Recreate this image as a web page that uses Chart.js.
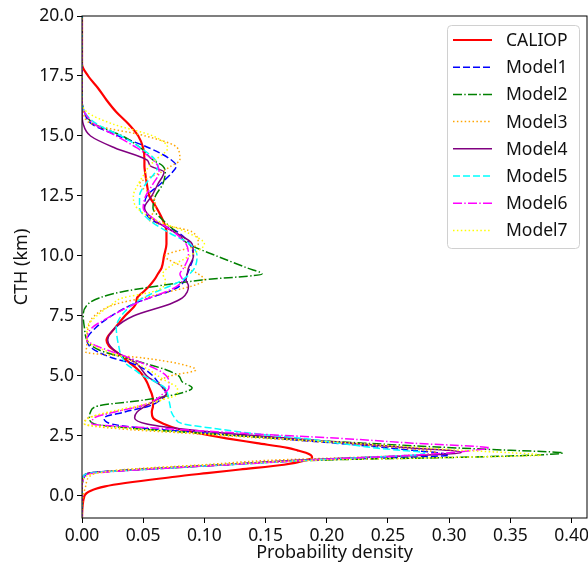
<!DOCTYPE html>
<html>
<head>
<meta charset="utf-8">
<script src="https://cdn.jsdelivr.net/npm/chart.js@4.4.1/dist/chart.umd.min.js"></script>
<style>
  html, body { margin: 0; padding: 0; background: #fff; }
  #wrap { width: 588px; height: 570px; }
</style>
</head>
<body>
<div id="wrap"><canvas id="cthChart" width="588" height="570"></canvas></div>
<script>
// cloud top height grid (km), shared by every profile
const heights = [-0.92, 0, 0.4, 0.8, 0.95, 1.1, 1.3, 1.5, 1.6, 1.7,
                 1.8, 1.9, 2.0, 2.2, 2.4, 2.6, 2.8, 3.0, 3.25, 3.5,
                 3.75, 4.0, 4.25, 4.5, 4.75, 5.0, 5.25, 5.5, 5.75, 6.0,
                 6.25, 6.5, 7.0, 7.5, 8.0, 8.25, 8.5, 8.75, 9.0, 9.25,
                 9.5, 10.0, 10.5, 11.0, 11.5, 12.0, 12.5, 13.0, 13.5, 13.75,
                 14.0, 14.5, 15.0, 15.5, 16.0, 16.5, 17.0, 17.5, 18.0, 20.0];

// probability density at each height
const caliop = [0, 0.002, 0.019, 0.076, 0.102, 0.129, 0.165, 0.184, 0.188, 0.187,
                0.183, 0.176, 0.168, 0.143, 0.118, 0.096, 0.078, 0.067, 0.058, 0.057,
                0.058, 0.058, 0.057, 0.055, 0.053, 0.050, 0.046, 0.040, 0.034, 0.028,
                0.022, 0.020, 0.027, 0.035, 0.044, 0.045, 0.050, 0.055, 0.059, 0.062,
                0.065, 0.067, 0.069, 0.069, 0.066, 0.061, 0.055, 0.053, 0.0515, 0.051,
                0.051, 0.050, 0.046, 0.038, 0.028, 0.020, 0.013, 0.005, 0, 0];
const model1 = [0, 0, 0, 0.002, 0.006, 0.045, 0.115, 0.19, 0.26, 0.30,
                0.29, 0.27, 0.25, 0.207, 0.157, 0.107, 0.055, 0.024, 0.018, 0.035,
                0.055, 0.064, 0.069, 0.066, 0.062, 0.058, 0.052, 0.042, 0.025, 0.013,
                0.006, 0.004, 0.011, 0.024, 0.042, 0.055, 0.070, 0.080, 0.084, 0.086,
                0.088, 0.091, 0.088, 0.078, 0.057, 0.051, 0.053, 0.064, 0.074, 0.077,
                0.073, 0.055, 0.030, 0.008, 0.002, 0, 0, 0, 0, 0];
const model2 = [0, 0, 0, 0.001, 0.006, 0.05, 0.12, 0.20, 0.30, 0.37,
                0.393, 0.35, 0.306, 0.23, 0.16, 0.10, 0.045, 0.010, 0.006, 0.007,
                0.013, 0.051, 0.078, 0.090, 0.082, 0.079, 0.069, 0.053, 0.036, 0.018,
                0.008, 0.004, 0.002, 0.001, 0.005, 0.014, 0.032, 0.062, 0.098, 0.147,
                0.135, 0.110, 0.087, 0.077, 0.066, 0.058, 0.060, 0.066, 0.068, 0.066,
                0.058, 0.048, 0.033, 0.010, 0.002, 0, 0, 0, 0, 0];
const model3 = [0, 0.001, 0.003, 0.006, 0.012, 0.035, 0.10, 0.16, 0.22, 0.27,
                0.29, 0.28, 0.26, 0.21, 0.15, 0.09, 0.03, 0.002, 0.005, 0.025,
                0.05, 0.065, 0.069, 0.066, 0.063, 0.072, 0.093, 0.08, 0.05, 0.003,
                0.004, 0.004, 0.005, 0.010, 0.028, 0.05, 0.07, 0.09, 0.10, 0.095,
                0.085, 0.068, 0.095, 0.090, 0.055, 0.060, 0.058, 0.047, 0.065, 0.073,
                0.080, 0.078, 0.052, 0.008, 0.001, 0, 0, 0, 0, 0];
const model4 = [0, 0, 0, 0.001, 0.005, 0.045, 0.115, 0.18, 0.23, 0.28,
                0.31, 0.30, 0.27, 0.22, 0.17, 0.12, 0.08, 0.053, 0.043, 0.045,
                0.052, 0.061, 0.069, 0.067, 0.060, 0.053, 0.049, 0.045, 0.037, 0.028,
                0.023, 0.021, 0.027, 0.042, 0.072, 0.082, 0.086, 0.087, 0.085, 0.086,
                0.087, 0.091, 0.090, 0.075, 0.059, 0.051, 0.057, 0.062, 0.067, 0.056,
                0.053, 0.027, 0.007, 0.001, 0, 0, 0, 0, 0, 0];
const model5 = [0, 0, 0, 0.001, 0.006, 0.05, 0.12, 0.19, 0.23, 0.27,
                0.28, 0.26, 0.24, 0.21, 0.18, 0.14, 0.11, 0.083, 0.076, 0.073,
                0.072, 0.071, 0.070, 0.068, 0.060, 0.050, 0.043, 0.036, 0.033, 0.031,
                0.030, 0.029, 0.028, 0.032, 0.042, 0.050, 0.060, 0.072, 0.082, 0.088,
                0.092, 0.094, 0.088, 0.070, 0.055, 0.047, 0.047, 0.052, 0.060, 0.062,
                0.060, 0.048, 0.032, 0.012, 0.002, 0, 0, 0, 0, 0];
const model6 = [0, 0, 0, 0.002, 0.01, 0.05, 0.12, 0.19, 0.23, 0.27,
                0.30, 0.32, 0.333, 0.27, 0.21, 0.135, 0.07, 0.008, 0.010, 0.027,
                0.048, 0.060, 0.066, 0.071, 0.071, 0.069, 0.062, 0.051, 0.039, 0.025,
                0.012, 0.004, 0.008, 0.024, 0.043, 0.055, 0.068, 0.078, 0.082, 0.080,
                0.083, 0.087, 0.085, 0.075, 0.060, 0.050, 0.052, 0.058, 0.063, 0.062,
                0.058, 0.045, 0.028, 0.010, 0.002, 0, 0, 0, 0, 0];
const model7 = [0, 0, 0, 0.003, 0.012, 0.04, 0.11, 0.20, 0.30, 0.375,
                0.35, 0.31, 0.28, 0.22, 0.16, 0.10, 0.04, 0.002, 0.006, 0.022,
                0.045, 0.065, 0.078, 0.078, 0.070, 0.062, 0.055, 0.045, 0.036, 0.022,
                0.010, 0.004, 0.004, 0.012, 0.025, 0.033, 0.057, 0.067, 0.068, 0.066,
                0.070, 0.088, 0.100, 0.085, 0.060, 0.045, 0.042, 0.046, 0.052, 0.055,
                0.060, 0.070, 0.058, 0.025, 0.004, 0, 0, 0, 0, 0];

const labels = ['CALIOP', 'Model1', 'Model2', 'Model3', 'Model4', 'Model5', 'Model6', 'Model7'];
const profiles = [caliop, model1, model2, model3, model4, model5, model6, model7];

// matplotlib-like line styles
const colors = ['#ff0000', '#0000ff', '#008000', '#ffa500', '#800080', '#00ffff', '#ff00ff', '#ffff00'];
const widths = [2.2, 1.5, 1.5, 1.5, 1.5, 1.5, 1.5, 1.5];
const dashes = [[], [7, 3], [9, 2.3, 1.4, 2.3], [1.5, 2.4], [], [7, 3], [9, 2.3, 1.4, 2.3], [1.5, 2.4]];

const FONT = "'Noto Sans', 'DejaVu Sans', sans-serif";
Chart.defaults.font.family = FONT;
Chart.defaults.font.size = 17.5;
Chart.defaults.color = '#111';

const datasets = profiles.map((vals, i) => ({
    label: labels[i],
    data: vals.map((v, k) => ({ x: v, y: heights[k] })),
    borderColor: colors[i],
    backgroundColor: colors[i],
    borderWidth: widths[i],
    borderDash: dashes[i],
    borderCapStyle: 'butt',
    pointRadius: 0,
    cubicInterpolationMode: 'monotone',
    fill: false,
    order: profiles.length - i // later series drawn on top
}));

// box around the axes
const frame = {
    id: 'frame',
    afterDatasetsDraw(chart) {
        const { ctx, chartArea: a } = chart;
        ctx.save();
        ctx.strokeStyle = '#000';
        ctx.lineWidth = 1;
        ctx.strokeRect(a.left, a.top, a.right - a.left, a.bottom - a.top);
        ctx.restore();
    }
};

// legend in the upper right corner, like matplotlib
const cornerLegend = {
    id: 'cornerLegend',
    afterDraw(chart) {
        const { ctx, chartArea: a } = chart;
        const w = 132, h = 223;
        const x0 = a.right - 140, y0 = a.top + 9;
        ctx.save();
        ctx.fillStyle = 'rgba(255,255,255,0.8)';
        ctx.strokeStyle = '#d0d0d0';
        ctx.lineWidth = 1;
        ctx.beginPath();
        ctx.roundRect(x0 + 0.5, y0 + 0.5, w, h, 4);
        ctx.fill();
        ctx.stroke();
        ctx.font = '17.5px ' + FONT;
        ctx.textBaseline = 'middle';
        chart.data.datasets.forEach((ds, i) => {
            const y = y0 + 15 + i * 27.2;
            ctx.strokeStyle = ds.borderColor;
            ctx.lineWidth = ds.borderWidth;
            ctx.setLineDash(ds.borderDash);
            ctx.beginPath();
            ctx.moveTo(x0 + 6, y);
            ctx.lineTo(x0 + 45, y);
            ctx.stroke();
            ctx.setLineDash([]);
            ctx.fillStyle = '#111';
            ctx.fillText(ds.label, x0 + 59, y + 1);
        });
        ctx.restore();
    }
};

const ctx = document.getElementById('cthChart').getContext('2d');
const chart = new Chart(ctx, {
    type: 'line',
    data: { datasets: datasets },
    plugins: [frame, cornerLegend],
    options: {
        responsive: false,
        animation: false,
        devicePixelRatio: 1,
        indexAxis: 'y',
        layout: { padding: { top: 16, right: 1, left: 0, bottom: 0 } },
        plugins: { legend: { display: false }, tooltip: { enabled: false } },
        scales: {
            x: {
                type: 'linear',
                position: 'bottom',
                min: 0,
                max: 0.4126,
                ticks: { stepSize: 0.05, includeBounds: false, padding: 3,
                         callback: v => v.toFixed(2), maxRotation: 0, autoSkip: false },
                grid: { drawOnChartArea: false, drawTicks: true, tickLength: 5, tickColor: '#000' },
                border: { display: false },
                title: { display: true, text: 'Probability density', font: { size: 18 },
                         padding: { top: 0, bottom: 6 } },
                afterFit: s => { s.height = 52; s.paddingLeft = 0; s.paddingRight = 0; }
            },
            y: {
                type: 'linear',
                position: 'left',
                min: -0.92,
                max: 20,
                ticks: { stepSize: 2.5, includeBounds: false, padding: 3,
                         callback: v => v.toFixed(1) },
                grid: { drawOnChartArea: false, drawTicks: true, tickLength: 5, tickColor: '#000' },
                border: { display: false },
                title: { display: true, text: 'CTH (km)', font: { size: 18 },
                         padding: { top: 11, bottom: 0 } },
                afterFit: s => { s.width = 82; s.paddingTop = 0; s.paddingBottom = 0; }
            }
        }
    }
});
</script>
</body>
</html>
